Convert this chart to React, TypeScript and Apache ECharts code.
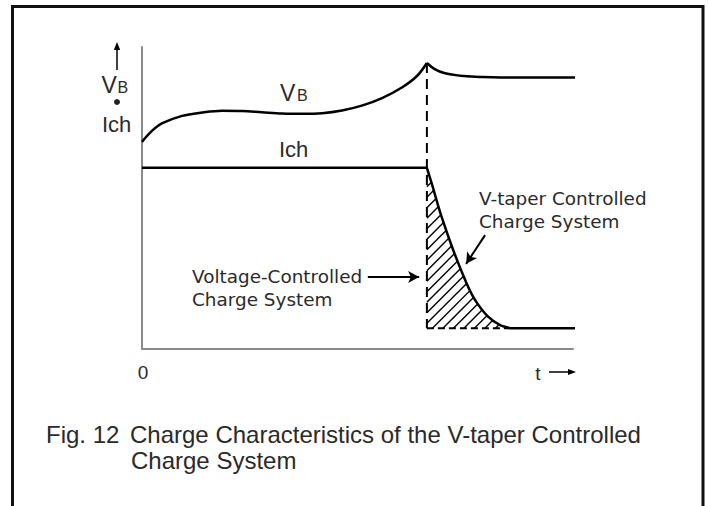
import React, { useEffect, useRef } from "react";
import * as echarts from "echarts";

// ---- data (x: time 0..100, y: level 0..100) ----
const vbRise: [number, number][] = [
  [0, 68.6], [2.3, 72.2], [4.6, 74.7], [9.3, 77.2], [13.9, 78.3], [18.6, 78.9],
  [23.2, 78.8], [27.8, 78.4], [32.5, 78.0], [37.1, 77.9], [41.8, 78.1],
  [46.4, 79.0], [51.0, 80.6], [55.7, 83.1], [60.3, 86.6], [63.8, 90.4], [66.1, 94.7],
];
const vbFall: [number, number][] = [
  [66.1, 94.7], [68.0, 92.6], [70.3, 91.3], [73.8, 90.5], [78.4, 90.1], [83.1, 89.9], [100.5, 89.9],
];
const ichFlat: [number, number][] = [[0, 60], [66.1, 60]];
const ichTaper: [number, number][] = [
  [66.1, 60], [67.2, 54.9], [69.5, 43.8], [72.2, 32.8], [75.3, 21.8], [77.3, 16.2],
  [80.3, 10.7], [83.1, 7.9], [85.4, 6.9],
];
const ichTail: [number, number][] = [[85.4, 6.9], [101.6, 6.9]];
const switchT = 66.1;
const vbPeak = 94.7;
const ichFloor = 6.9;
const taperEndT = 85.4;

const black = "#000";
const textColor = "#2a2a2a";
const axisColor = "#8a8a8a";

function renderHatch(_params: any, api: any) {
  const pts = ichTaper.map((p) => api.coord(p));
  const corner = api.coord([switchT, ichFloor]);
  const Lx = corner[0];
  const By = corner[1];
  const f = pts.map((p: number[]) => p[0] + p[1]);
  const cMin = Lx + pts[0][1];
  const cMax = f[f.length - 1];
  const step = 10.5;
  const children: any[] = [];
  for (let c = cMin + step * 0.8; c < cMax - 2; c += step) {
    let x0: number, y0: number;
    if (c - Lx <= By) { x0 = Lx; y0 = c - Lx; } else { x0 = c - By; y0 = By; }
    let x1: number | null = null, y1: number | null = null;
    for (let i = 0; i < pts.length - 1; i++) {
      if (f[i] <= c && c <= f[i + 1]) {
        const t = (c - f[i]) / (f[i + 1] - f[i]);
        x1 = pts[i][0] + t * (pts[i + 1][0] - pts[i][0]);
        y1 = pts[i][1] + t * (pts[i + 1][1] - pts[i][1]);
        break;
      }
    }
    if (x1 === null || y1 === null) continue;
    children.push({
      type: "line",
      shape: { x1: x0, y1: y0, x2: x1, y2: y1 },
      style: { stroke: black, lineWidth: 1.4 },
    });
  }
  return { type: "group", children };
}

function txt(text: string, x: number, y: number, font: string, align = "left") {
  return {
    type: "text",
    x,
    y,
    silent: true,
    style: {
      text,
      font,
      fill: textColor,
      align,
      verticalAlign: "middle",
      textAlign: align,
      textVerticalAlign: "middle",
    },
  };
}

const lab = '18.4px "DejaVu Sans"';
const big = '23px "Liberation Sans"';
const sub = '16px "Liberation Sans"';
const ich = '22px "Liberation Sans"';
const cap = '24px "Liberation Sans"';
const tick = '19px "Liberation Sans"';

const axisCommon = {
  type: "value",
  min: 0,
  max: 100,
  axisLine: { show: true, onZero: false, lineStyle: { color: axisColor, width: 2 } },
  axisTick: { show: false },
  axisLabel: { show: false },
  splitLine: { show: false },
};

const lineCommon = {
  type: "line",
  symbol: "none",
  clip: false,
  silent: true,
  lineStyle: { color: black, width: 2.5 },
};

const option: any = {
  animation: false,
  backgroundColor: "#fff",
  grid: { left: 142, top: 47, width: 431, height: 302 },
  xAxis: axisCommon,
  yAxis: axisCommon,
  series: [
    { ...lineCommon, data: vbRise, smooth: 0.35 },
    { ...lineCommon, data: vbFall, smooth: 0.4 },
    {
      ...lineCommon,
      data: ichFlat,
      markLine: {
        silent: true,
        symbol: ["none", "arrow"],
        symbolSize: [9, 11],
        label: { show: false },
        lineStyle: { color: black, width: 2, type: "solid" },
        data: [
          [{ coord: [52.4, 23.8] }, { coord: [64.3, 23.8] }],
          [{ coord: [79.6, 37.7] }, { coord: [75.2, 28.2] }],
        ],
      },
    },
    { ...lineCommon, data: ichTaper, smooth: 0.3 },
    { ...lineCommon, data: ichTail },
    {
      ...lineCommon,
      data: [[switchT, vbPeak], [switchT, ichFloor]],
      lineStyle: { color: black, width: 2, type: [10, 6] },
    },
    {
      ...lineCommon,
      data: [[switchT, ichFloor], [taperEndT, ichFloor]],
      lineStyle: { color: black, width: 2, type: [7, 4] },
    },
    {
      type: "custom",
      silent: true,
      data: [[switchT, ichFloor]],
      encode: { x: 0, y: 1 },
      renderItem: renderHatch,
    },
  ],
  graphic: [
    {
      type: "polyline",
      silent: true,
      shape: { points: [[12.5, 520], [12.5, 6.5], [703, 6.5], [703, 520]] },
      style: { stroke: "#111", lineWidth: 3, fill: "none" },
    },
    // y-axis label arrow
    { type: "line", silent: true, shape: { x1: 117, y1: 70, x2: 117, y2: 48 }, style: { stroke: black, lineWidth: 1.5 } },
    { type: "polygon", silent: true, shape: { points: [[117, 42], [113.8, 50], [120.2, 50]] }, style: { fill: black } },
    { type: "circle", silent: true, shape: { cx: 117, cy: 102, r: 3 }, style: { fill: "#222" } },
    txt("V", 101.5, 85, big),
    txt("B", 117.5, 87.4, sub),
    txt("Ich", 102, 124.3, ich),
    // curve labels
    txt("V", 280, 93, big),
    txt("B", 297, 95.4, sub),
    txt("Ich", 279, 149.6, ich),
    // axis texts
    txt("0", 143, 372, tick, "center"),
    txt("t", 538, 373.4, tick, "center"),
    { type: "line", silent: true, shape: { x1: 549, y1: 372, x2: 570, y2: 372 }, style: { stroke: black, lineWidth: 1.5 } },
    { type: "polygon", silent: true, shape: { points: [[576, 372], [568, 369], [568, 375]] }, style: { fill: black } },
    // annotations
    txt("V-taper Controlled", 479, 198.5, lab),
    txt("Charge System", 479, 221.5, lab),
    txt("Voltage-Controlled", 192, 276.5, lab),
    txt("Charge System", 192, 299.5, lab),
    // caption
    txt("Fig. 12", 46, 434.5, cap),
    txt("Charge Characteristics of the V-taper Controlled", 130, 434.5, cap),
    txt("Charge System", 131, 460.5, cap),
  ],
};

export default function App() {
  const ref = useRef<HTMLDivElement>(null);
  useEffect(() => {
    const chart = echarts.init(ref.current!, null, { renderer: "svg" });
    chart.setOption(option);
    return () => chart.dispose();
  }, []);
  return (
    <div
      ref={ref}
      style={{ position: "fixed", left: 0, top: 0, width: 708, height: 506, background: "#fff" }}
    />
  );
}
